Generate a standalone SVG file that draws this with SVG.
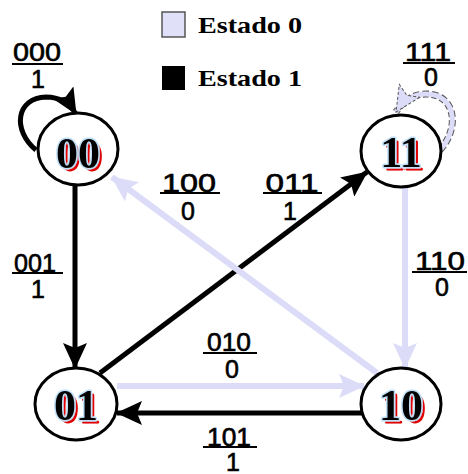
<svg xmlns="http://www.w3.org/2000/svg" width="468" height="474" viewBox="0 0 468 474">
<style>
.lbl{font-family:"Liberation Sans",Arial,sans-serif;font-size:25px;fill:#000;stroke:#000;stroke-width:0.6;text-anchor:middle}
.frac{stroke:#000;stroke-width:2}
.st{font-family:"Liberation Serif","Times New Roman",serif;font-weight:bold;font-size:44px;text-anchor:middle;fill:#000;stroke:#bfe0f8;stroke-width:3;stroke-linejoin:round;paint-order:stroke;filter:url(#shadow)}
.ring{fill:#fff;stroke:#000;stroke-width:3}
.blk{stroke:#000;stroke-width:5;fill:none}
.lav{stroke:#dcdcf8;stroke-width:6;fill:none}
.leg{font-family:"Liberation Serif","Times New Roman",serif;font-weight:bold;font-size:24px;fill:#000}
</style>
<defs>
<filter id="shadow" x="-20%" y="-20%" width="140%" height="140%">
<feFlood flood-color="#e00000" result="red"/>
<feMorphology in="SourceAlpha" operator="erode" radius="1" result="thin"/>
<feComposite in="red" in2="thin" operator="in" result="redShape"/>
<feOffset in="redShape" dx="3" dy="3" result="off"/>
<feMerge><feMergeNode in="off"/><feMergeNode in="SourceGraphic"/></feMerge>
</filter>
<marker id="ab" viewBox="0 0 26 24" refX="25" refY="12" markerWidth="26" markerHeight="24" markerUnits="userSpaceOnUse" orient="auto">
<path d="M0,0 L26,12 L0,24 L5,12 z" fill="#000"/>
</marker>
<marker id="al" viewBox="0 0 26 24" refX="25" refY="12" markerWidth="26" markerHeight="24" markerUnits="userSpaceOnUse" orient="auto">
<path d="M0,0 L26,12 L0,24 L5,12 z" fill="#dcdcf8"/>
</marker>
<marker id="alo" viewBox="0 0 28 26" refX="26" refY="13" markerWidth="28" markerHeight="26" markerUnits="userSpaceOnUse" orient="auto">
<path d="M1,1 L26,13 L1,25 L6,13 z" fill="#dcdcf8" stroke="#555" stroke-width="1" stroke-dasharray="3,2"/>
</marker>
</defs>
<rect width="468" height="474" fill="#fff"/>
<g id="legend">
<rect x="162" y="12" width="23" height="25" fill="#e0e0f8" stroke="#555" stroke-width="1.5"/>
<text class="leg" x="198" y="33" textLength="104" lengthAdjust="spacingAndGlyphs">Estado 0</text>
<rect x="162" y="66" width="23" height="24" fill="#000"/>
<text class="leg" x="198" y="86" textLength="104" lengthAdjust="spacingAndGlyphs">Estado 1</text>
</g>
<g id="connectors">
<line class="blk" x1="75" y1="186" x2="75" y2="368" marker-end="url(#ab)"/>
<line class="blk" x1="100" y1="373" x2="367" y2="172" marker-end="url(#ab)"/>
<line class="blk" x1="362" y1="413" x2="117" y2="413" marker-end="url(#ab)"/>
<line class="lav" x1="117" y1="386" x2="364" y2="386" marker-end="url(#al)"/>
<line class="lav" x1="405" y1="188" x2="405" y2="368" marker-end="url(#al)"/>
<line class="lav" x1="377" y1="373" x2="112" y2="177" marker-end="url(#al)"/>
<path class="blk" d="M36,150 C12,130 16,98 46,97 C60,97 70,104 76,114" marker-end="url(#ab)"/>
<path d="M440,150 C460,128 456,94 426,94 C413,94 403,101 396,112" fill="none" stroke="#555" stroke-width="7" stroke-dasharray="6,3"/>
<path d="M440,150 C460,128 456,94 426,94 C413,94 403,101 396,112" fill="none" stroke="#dcdcf8" stroke-width="5" marker-end="url(#alo)"/>
</g>
<g id="labels">
<text class="lbl" x="37" y="61" textLength="48" lengthAdjust="spacingAndGlyphs">000</text>
<line class="frac" x1="12" y1="64" x2="63" y2="64"/>
<text class="lbl" x="38" y="88">1</text>
<text class="lbl" x="428" y="61" textLength="46" lengthAdjust="spacingAndGlyphs">111</text>
<line class="frac" x1="403" y1="63" x2="455" y2="63"/>
<text class="lbl" x="431" y="86">0</text>
<text class="lbl" x="189" y="192" textLength="54" lengthAdjust="spacingAndGlyphs">100</text>
<line class="frac" x1="160" y1="193" x2="220" y2="193"/>
<text class="lbl" x="188" y="220">0</text>
<text class="lbl" x="292" y="192" textLength="53" lengthAdjust="spacingAndGlyphs">011</text>
<line class="frac" x1="263" y1="193" x2="322" y2="193"/>
<text class="lbl" x="290" y="220">1</text>
<text class="lbl" x="35" y="272" textLength="42" lengthAdjust="spacingAndGlyphs">001</text>
<line class="frac" x1="12" y1="273" x2="63" y2="273"/>
<text class="lbl" x="38" y="298">1</text>
<text class="lbl" x="440" y="270" textLength="50" lengthAdjust="spacingAndGlyphs">110</text>
<line class="frac" x1="412" y1="272" x2="467" y2="272"/>
<text class="lbl" x="442" y="296">0</text>
<text class="lbl" x="229" y="351" textLength="44" lengthAdjust="spacingAndGlyphs">010</text>
<line class="frac" x1="203" y1="353" x2="257" y2="353"/>
<text class="lbl" x="232" y="378">0</text>
<text class="lbl" x="229" y="446" textLength="44" lengthAdjust="spacingAndGlyphs">101</text>
<line class="frac" x1="203" y1="447" x2="257" y2="447"/>
<text class="lbl" x="233" y="471">1</text>
</g>
<g id="s00">
<ellipse class="ring" cx="78" cy="149" rx="40" ry="36"/>
<text class="st" x="78" y="168">00</text>
</g>
<g id="s11">
<ellipse class="ring" cx="401" cy="151" rx="40" ry="36"/>
<text class="st" x="401" y="167">11</text>
</g>
<g id="s01">
<ellipse class="ring" cx="76" cy="404" rx="41" ry="36"/>
<text class="st" x="76" y="420">01</text>
</g>
<g id="s10">
<ellipse class="ring" cx="401" cy="404" rx="40" ry="36"/>
<text class="st" x="401" y="420">10</text>
</g>
</svg>
